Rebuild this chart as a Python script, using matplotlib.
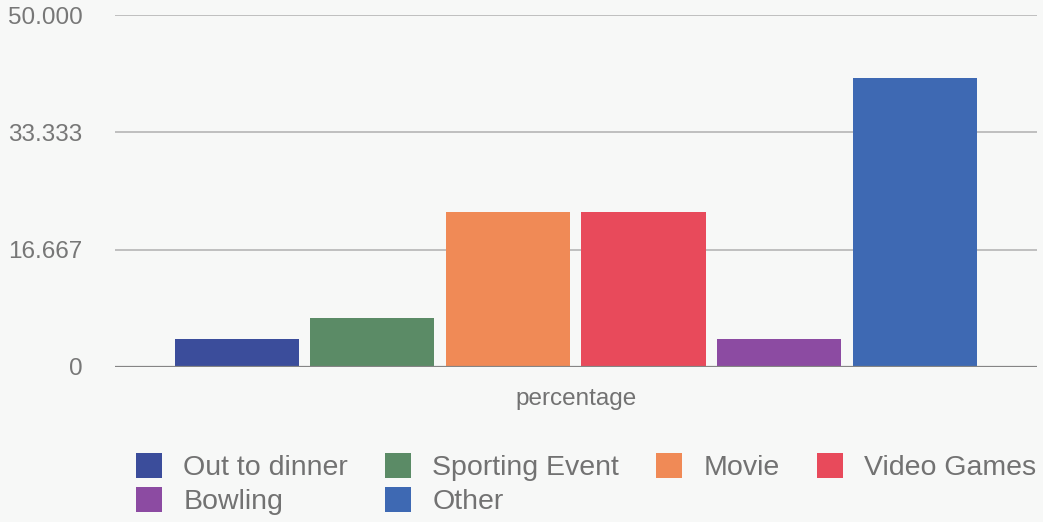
import numpy as np
import matplotlib
matplotlib.use("Agg")
import matplotlib.pyplot as plt

# survey answers, one bar per activity inside the single "percentage" group
activities = ["Out to dinner", "Sporting Event", "Movie", "Video Games", "Bowling", "Other"]
percentages = [4, 7, 22, 22, 4, 41]
bar_colors = ["#3b4d9b", "#5b8b66", "#f08a56", "#e84a5b", "#8c4ba2", "#3e69b3"]
category = "percentage"
y_ticks = np.linspace(0, 50, 4)
y_tick_labels = ["0", "16.667", "33.333", "50.000"]

plt.rcParams["font.family"] = ["Liberation Sans", "DejaVu Sans"]

bg = "#f7f8f7"
fig = plt.figure(figsize=(10.43, 5.22), dpi=100)
fig.patch.set_facecolor(bg)
ax = fig.add_axes([0.110, 0.297, 0.884, 0.674])
ax.set_facecolor(bg)

x = np.arange(len(activities))
bars = ax.bar(x, percentages, width=0.915, color=bar_colors, zorder=3)

ax.set_xlim(-0.9, len(activities) - 1 + 0.9)
ax.set_ylim(0, 50)

# horizontal guides
for yv in y_ticks[1:]:
    ax.axhline(yv, color="#b5b5b5", linewidth=1.2, zorder=1)
ax.axhline(0, color="#858585", linewidth=1.6, zorder=4)

ax.set_yticks(y_ticks)
ax.set_yticklabels(y_tick_labels)
ax.tick_params(axis="y", length=0, pad=23, labelsize=17.5, labelcolor="#777777")
ax.set_xticks([x.mean()])
ax.set_xticklabels([category])
ax.tick_params(axis="x", length=0, pad=15, labelsize=17.5, labelcolor="#727272")

for spine in ax.spines.values():
    spine.set_visible(False)

# legend laid out column-major so rows read left to right
order = [0, 4, 1, 5, 2, 3]
leg = fig.legend([bars[i] for i in order], [activities[i] for i in order],
                 ncol=4, loc="upper left", bbox_to_anchor=(0.1304, 0.132),
                 frameon=False, fontsize=20.5, handlelength=0.92, handleheight=0.95,
                 handletextpad=0.74, columnspacing=1.3, labelspacing=0.22,
                 borderaxespad=0, borderpad=0)
for t in leg.get_texts():
    t.set_color("#727272")

fig.savefig("out.png", dpi=100, facecolor=fig.get_facecolor())
